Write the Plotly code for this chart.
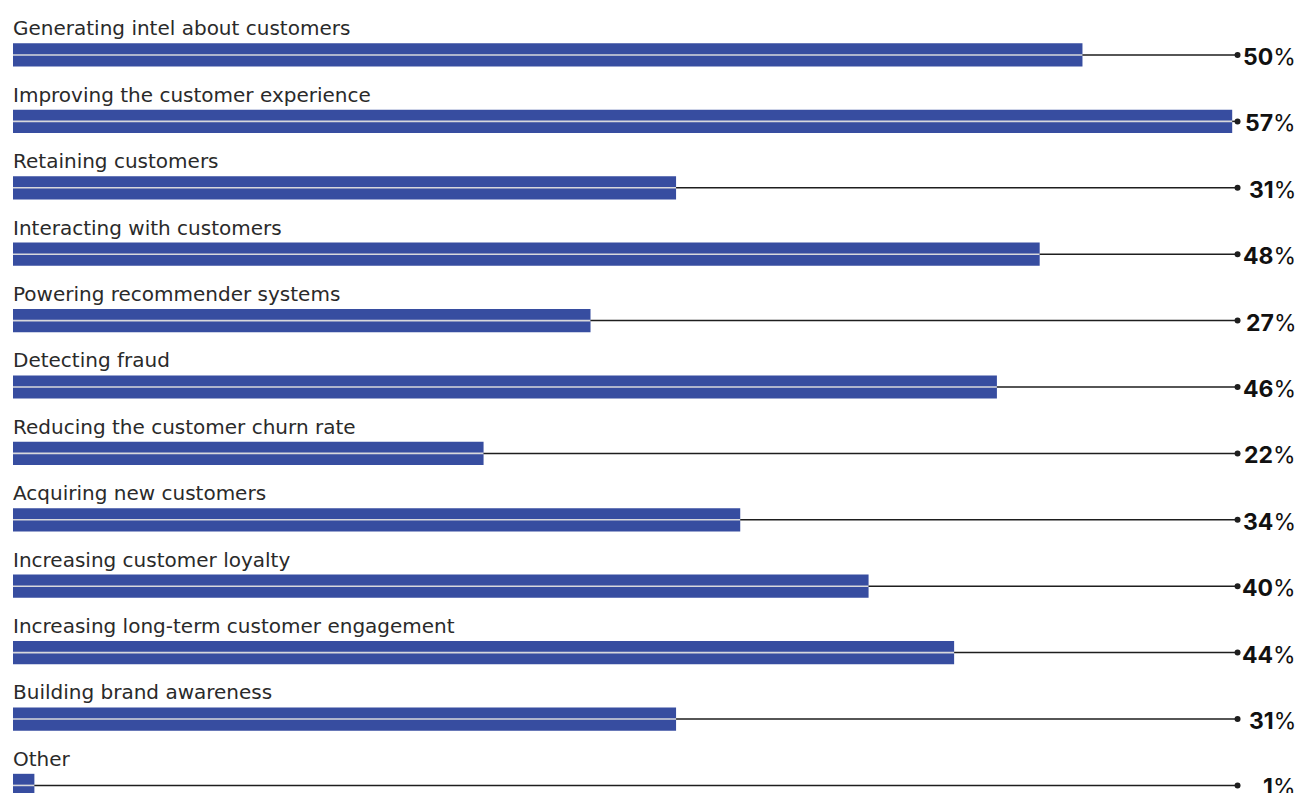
import plotly.graph_objects as go

categories = [
    "Generating intel about customers",
    "Improving the customer experience",
    "Retaining customers",
    "Interacting with customers",
    "Powering recommender systems",
    "Detecting fraud",
    "Reducing the customer churn rate",
    "Acquiring new customers",
    "Increasing customer loyalty",
    "Increasing long-term customer engagement",
    "Building brand awareness",
    "Other",
]
values = [50, 57, 31, 48, 27, 46, 22, 34, 40, 44, 31, 1]

BAR = "#374DA0"
INK = "#1E1E1E"
END = 57.25          # where leader lines stop (just past the longest bar)
rows = list(range(len(categories)))

fig = go.Figure()

fig.add_trace(go.Bar(
    x=values, y=rows, orientation="h", base=0,
    marker=dict(color=BAR, line=dict(width=0)),
    width=0.35, hoverinfo="skip",
))

# light rule through the middle of each bar
inner_x, inner_y = [], []
# dark leader from bar end to the dot
lead_x, lead_y = [], []
for r, v in zip(rows, values):
    inner_x += [0, v, None]
    inner_y += [r, r, None]
    lead_x += [v, END, None]
    lead_y += [r, r, None]

fig.add_trace(go.Scatter(x=inner_x, y=inner_y, mode="lines",
                         line=dict(color="#D8D8DC", width=1.6), hoverinfo="skip"))
fig.add_trace(go.Scatter(x=lead_x, y=lead_y, mode="lines",
                         line=dict(color=INK, width=1.5), hoverinfo="skip"))
fig.add_trace(go.Scatter(x=[END] * len(rows), y=rows, mode="markers",
                         marker=dict(color=INK, size=6), hoverinfo="skip"))

for r, (c, v) in enumerate(zip(categories, values)):
    fig.add_annotation(x=-0.09, y=r - 0.40, xref="x", yref="y", text=c,
                       showarrow=False, xanchor="left", yanchor="middle",
                       font=dict(family="DejaVu Sans", size=20, color="#2A2A2A"))
    fig.add_annotation(x=1298 / 1300, y=r + 0.03, xref="paper", yref="y",
                       text=f"<b>{v}</b>%", showarrow=False,
                       xanchor="right", yanchor="middle",
                       font=dict(family="Inter", size=23, color="#111111"))

fig.update_layout(
    width=1300, height=793,
    margin=dict(l=0, r=0, t=0, b=0),
    paper_bgcolor="white", plot_bgcolor="white",
    showlegend=False,
    xaxis=dict(range=[-0.608, 60.17], visible=False, fixedrange=True),
    yaxis=dict(range=[11.114, -0.828], visible=False, fixedrange=True),
)

fig.write_html("out.html")
